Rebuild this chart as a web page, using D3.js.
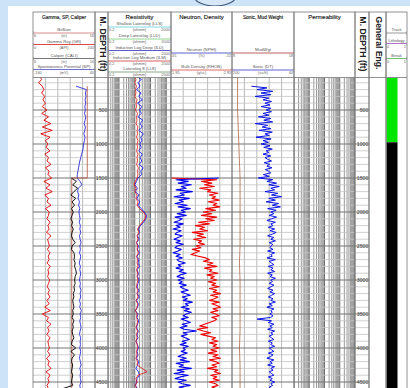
<!DOCTYPE html>
<html>
<head>
<meta charset="utf-8">
<script src="https://cdn.jsdelivr.net/npm/d3@7"></script>
<style>
html, body {margin: 0; padding: 0; background: #cde3f8;}
svg {display: block; font-family: "Liberation Sans", Arial, sans-serif;}
</style>
</head>
<body>
<svg id="chart" width="410" height="388"></svg>
<script>
// ---- log values (depth in ft) ----
const depthLabels = [500, 1000, 1500, 2000, 2500, 3000, 3500, 4000, 4500];

// gamma ray (API), every 50 ft from 0
const gammaRay = [20, 28, 18, 30, 35, 28, 38, 32, 40, 30, 45, 28, 50, 35, 58, 30, 62, 25, 55, 40, 48,
    42, 55, 38, 50, 45, 58, 40, 52, 48, 60, 35, 55, 42, 62, 38, 50, 45, 58, 40, 52,
    50, 45, 55, 48, 52, 44, 58, 47, 50, 53, 46, 55, 49, 52, 45, 56, 48, 51, 47, 54,
    50, 46, 53, 48, 55, 45, 52, 38, 56, 30, 50, 44, 58, 47, 52, 45, 55, 48, 50, 53,
    47, 55, 44, 52, 48, 58, 42, 55, 48, 52, 45, 50];

// spontaneous potential (mV), every 50 ft from 150
const spontaneousPotential = [-21, 12, 9, 11, 8, 10, 7, 9, 6, 10, 8, 5, 9, 7, 4, 8, 6, 3,
    2, 0, -3, -6, -9, -11, -13, -15, -17, -18, -8, -2, -14, -16, -12, -15, -10, -13, -9, -12,
    -10, -8, -11, -7, -9, -6, -10, -8, -5, -9, -7, -10, -6, -8, -11, -7, -9, -6, -8, -10,
    -7, -9, -5, -8, -6, -10, -7, -9, -4, -8, -6, -9, -7, -5, -8, -10, -6, -8, -7, -9,
    -6, -8, -10, -7, -5, -9, -6, -8, -7, -5, -9, -7];

// caliper (in), every 50 ft from 1500
const caliper = [12.2, 13.0, 12.4, 13.2, 12.6, 12.1, 12.9, 12.3, 12.7, 12.2, 12.5,
    12.3, 12.1, 12.4, 12.2, 12.5, 12.3, 12.2, 12.4, 12.8, 12.3, 12.2, 12.6, 12.7, 12.6, 12.8, 12.7, 12.9, 13.0, 12.8, 12.7,
    12.8, 12.6, 12.7, 12.5, 12.6, 12.4, 12.5, 12.6, 12.4, 12.5, 12.3, 12.6, 12.4, 12.5, 12.3, 12.4, 12.6, 12.3, 12.2, 12.9,
    12.1, 12.7, 12.3, 12.2, 12.4, 12.3, 12.2, 12.4, 12.3, 12.2, 12.4, 10.7];

// bit size (in), step curve
const bitSizeDepths = [150, 1500, 1500, 4700];
const bitSize = [14.75, 14.75, 12.25, 12.25];

// induction deep / medium (ohmm), every 50 ft from 0
const ildRes = [12, 26, 16, 22, 13, 25, 18, 30, 15, 28, 20, 26, 16, 32, 22, 30, 18, 35, 24, 28, 21,
    26, 18, 30, 22, 28, 19, 34, 24, 27, 16, 13, 10, 15, 11, 18, 14, 21, 16, 26, 40,
    55, 50, 36, 23, 17, 20, 15, 19, 13, 17, 15, 20, 14, 18, 16, 20, 14, 17, 15, 19,
    16, 14, 18, 15, 19, 13, 17, 15, 11, 16, 14, 18, 15, 13, 17, 14, 16, 12, 15, 17,
    14, 16, 13, 18, 15, 12, 17, 20, 14, 13, 11, 15];
const ilmRes = [9, 12, 10, 13, 11, 12, 10, 14, 12, 13, 11, 15, 13, 14, 12, 16, 14, 15, 13, 16, 14,
    15, 13, 16, 14, 15, 13, 17, 15, 16, 14, 11, 9, 12, 10, 14, 12, 16, 14, 20, 35,
    50, 45, 30, 20, 15, 18, 14, 16, 13, 15, 14, 17, 13, 15, 14, 16, 13, 15, 14, 16,
    14, 13, 15, 14, 16, 12, 15, 14, 11, 14, 13, 15, 14, 12, 15, 13, 14, 12, 14, 15,
    13, 14, 12, 15, 14, 30, 60, 16, 12, 14, 11, 13];

// neutron porosity (%), every 25 ft from 1500
const neutron = [-2, 40, 28, 38, 25, 35, 30, 40, 24, 36, 32, 42, 27, 37, 33, 41, 29, 38, 26, 35, 31,
    39, 30, 41, 34, 37, 42, 33, 40, 36, 43, 35, 39, 41, 34, 38, 42, 36, 40, 33, 39,
    41, 35, 38, 43, 36, 40, 34, 39, 37, 31, 38, 35, 40, 33, 37, 30, 36, 39, 32, 38,
    34, 37, 30, 36, 33, 28, 35, 31, 26, 34, 29, 33, 24, 31, 28, 35, 27, 32, 25, 30,
    33, 28, 35, 30, 26, 34, 29, 36, 32, 20, 33, 29, 35, 31, 27, 34, 30, 36, 28, 33,
    31, 35, 29, 34, 38, 30, 36, 27, 40, 33, 37, 25, 39, 32, 42, 28, 36, 41, 30, 38, 34, 26, 37, 31];

// bulk density (g/cc), every 25 ft from 1500
const density = [1.95, 2.70, 2.45, 2.62, 2.50, 2.66, 2.42, 2.60, 2.55, 2.72, 2.58, 2.68, 2.62, 2.74, 2.56, 2.70, 2.64, 2.75, 2.52, 2.68, 2.48,
    2.62, 2.45, 2.70, 2.52, 2.66, 2.40, 2.58, 2.35, 2.50, 2.42, 2.55, 2.30, 2.48, 2.38, 2.52, 2.32, 2.45, 2.40, 2.50, 2.36,
    2.44, 2.30, 2.42, 2.35, 2.28, 2.40, 2.52, 2.58, 2.48, 2.64, 2.55, 2.70, 2.50, 2.62, 2.58, 2.72, 2.54, 2.66, 2.60, 2.70,
    2.56, 2.68, 2.62, 2.74, 2.58, 2.70, 2.64, 2.76, 2.60, 2.72, 2.66, 2.58, 2.74, 2.62, 2.70, 2.76, 2.64, 2.72, 2.60, 2.68,
    2.74, 2.62, 2.70, 2.66, 2.58, 2.50, 2.42, 2.55, 2.38, 2.48, 2.60, 2.44, 2.56, 2.68, 2.62, 2.72, 2.58, 2.70, 2.64, 2.74,
    2.60, 2.70, 2.56, 2.72, 2.64, 2.76, 2.58, 2.68, 2.74, 2.62, 2.70, 2.55, 2.72, 2.66, 2.76, 2.60, 2.70, 2.64, 2.74, 2.58, 2.68, 2.72, 2.62, 2.70];

// sonic (us/ft), every 25 ft from 150
const sonic = [150, 110, 135, 95, 125, 100, 140, 105, 120, 98, 115, 102, 125, 100, 112,
    98, 120, 105, 132, 100, 118, 95, 140, 108, 122, 100, 130, 96, 115, 104, 138, 99, 120, 106, 125,
    102, 118, 96, 112, 105, 120, 100, 115, 108, 98, 117, 103, 110, 97, 114, 106, 100, 119, 104, 132,
    95, 110, 85, 105, 78, 100, 90, 115, 82, 98, 72, 105, 88, 112, 80, 96, 75, 108, 86, 100,
    92, 104, 85, 98, 110, 88, 100, 94, 106, 90, 102, 86, 96, 108, 92, 100, 88, 104, 95, 99,
    102, 94, 108, 90, 100, 96, 110, 88, 104, 98, 92, 106, 94, 100, 90, 108, 96, 102, 88, 100,
    96, 104, 92, 100, 108, 94, 102, 90, 98, 106, 94, 100, 88, 104, 96, 110, 92, 100, 96, 102,
    94, 100, 135, 98, 106, 92, 102, 96, 108, 90, 100, 94, 104, 98, 92, 106, 96, 100, 90, 104,
    98, 92, 106, 94, 100, 110, 92, 102, 96, 108, 90, 100, 94, 104, 98, 92, 106, 96, 102, 90, 100, 95, 104, 98];

// mud weight (ppg), every 250 ft from 0
const mudWeight = [8.9, 8.9, 8.9, 9.0, 9.1, 9.2, 9.3, 9.3, 9.3, 9.3, 9.3, 9.2, 9.3, 9.3, 9.3, 9.3, 9.2, 9.3, 9.3, 9.3];

// casing / hole zones in the last track
const zoneTops = [0, 975];
const zoneBases = [975, 4800];

// ---- layout ----
const W = 410, H = 388;
const HEAD = {top: 12, bottom: 77.5};
const PLOT = {top: 77.5, bottom: 392};
const zoneColors = ['#00e600', '#000000'];

const tracks = [
    {key: 'gr', x0: 33, x1: 95, title: 'Gamma, SP, Caliper', titleSize: 4.9, grid: 'lin'},
    {key: 'depth1', x0: 95, x1: 108, depth: true},
    {key: 'res', x0: 108, x1: 171, title: 'Resistivity', titleSize: 6.2, grid: 'log', logDomain: [0.2, 2000]},
    {key: 'nd', x0: 171, x1: 232, title: 'Neutron, Density', titleSize: 6, grid: 'lin'},
    {key: 'sonic', x0: 232, x1: 294, title: 'Sonic, Mud Weight', titleSize: 4.8, grid: 'lin'},
    {key: 'perm', x0: 294, x1: 355, title: 'Permeability', titleSize: 5.9, grid: 'log', logDomain: [0.1, 1000]},
    {key: 'depth2', x0: 355, x1: 369, depth: true},
    {key: 'eng', x0: 369, x1: 386, vertical: 'General Eng.'},
    {key: 'zone', x0: 386, x1: 407}
];
const trackByKey = {};
tracks.forEach(t => trackByKey[t.key] = t);

const headerCurves = [
    {track: 'gr', label: 'BitSize', lo: '6', unit: '(in)', hi: '16', color: '#d98a8a', ly: 33},
    {track: 'gr', label: 'Gamma Ray (GR)', lo: '0', unit: '(API)', hi: '200', color: '#e04848', ly: 44.5},
    {track: 'gr', label: 'Caliper (CALI)', lo: '6', unit: '(in)', hi: '16', color: '#777', ly: 58.5},
    {track: 'gr', label: 'Spontaneous Potential (SP)', lo: '-160', unit: '(mV)', hi: '40', color: '#7070d0', ly: 69.5},
    {track: 'res', label: 'Shallow Laterolog (LLS)', lo: '0.2', unit: '(ohmm)', hi: '2000', color: '#7fd8e6', ly: 27},
    {track: 'res', label: 'Deep Laterolog (LLD)', lo: '0.2', unit: '(ohmm)', hi: '2000', color: '#90d890', ly: 39},
    {track: 'res', label: 'Induction Log Deep (ILD)', lo: '0.2', unit: '(ohmm)', hi: '2000', color: '#5a5ac8', ly: 50.5},
    {track: 'res', label: 'Induction Log Medium (ILM)', lo: '0.2', unit: '(ohmm)', hi: '2000', color: '#d86060', ly: 61},
    {track: 'res', label: 'Laterolog 8 (LL8)', lo: '0.2', unit: '(ohmm)', hi: '2000', color: '#8aa88a', ly: 72},
    {track: 'nd', label: 'Neutron (NPHI)', lo: '45', unit: '(%)', hi: '-15', color: '#6060d0', ly: 53},
    {track: 'nd', label: 'Bulk Density (RHOB)', lo: '1.95', unit: '(g/cc)', hi: '2.95', color: '#e06868', ly: 70},
    {track: 'sonic', label: 'MudWgt', lo: '8', unit: '', hi: '18', color: '#c06060', ly: 53},
    {track: 'sonic', label: 'Sonic (DT)', lo: '200', unit: '(us/ft)', hi: '40', color: '#6060d0', ly: 70},
    {track: 'zone', label: 'Track', lo: '', unit: '', hi: '', color: '#999', ly: 33},
    {track: 'zone', label: 'Lithology', lo: '0', unit: '', hi: '1', color: '#b070d0', ly: 43.5},
    {track: 'zone', label: 'Break', lo: '0', unit: '', hi: '1', color: '#70c070', ly: 58.5}
];

const curves = [
    {track: 'gr', values: spontaneousPotential, start: 150, step: 50, domain: [-160, 40], color: '#2a2ad6', width: 0.9},
    {track: 'gr', depths: bitSizeDepths, values: bitSize, domain: [6, 16], color: '#b0503a', width: 0.8},
    {track: 'gr', values: caliper, start: 1500, step: 50, domain: [6, 16], color: '#111', width: 1},
    {track: 'gr', values: gammaRay, start: 0, step: 50, domain: [0, 200], color: '#e00000', width: 0.9},
    {track: 'res', values: ildRes, start: 0, step: 50, log: true, domain: [0.2, 2000], color: '#1a1ae6', width: 0.9},
    {track: 'res', values: ilmRes, start: 0, step: 50, log: true, domain: [0.2, 2000], color: '#e01010', width: 0.8},
    {track: 'nd', values: density, start: 1500, step: 25, domain: [1.95, 2.95], color: '#f00000', width: 1.1},
    {track: 'nd', values: neutron, start: 1500, step: 25, domain: [45, -15], color: '#0000f0', width: 1.1},
    {track: 'sonic', values: mudWeight, start: 0, step: 250, domain: [8, 18], color: '#a0522d', width: 0.7},
    {track: 'sonic', values: sonic, start: 150, step: 25, domain: [200, 40], color: '#0a14e6', width: 1}
];

const y = d3.scaleLinear().domain([0, 4500]).range([76, 382]);

const svg = d3.select('#chart');

// background, logo edge, white sheet
svg.append('rect').attr('width', W).attr('height', H).attr('fill', '#cde3f8');
svg.append('ellipse')
    .attr('cx', 215).attr('cy', -4).attr('rx', 21).attr('ry', 10)
    .attr('fill', '#d6e7f7').attr('stroke', '#3b5a7a').attr('stroke-width', 1.1);
svg.append('rect').attr('x', 8).attr('y', 6).attr('width', W - 8).attr('height', H - 6).attr('fill', '#fff');

const defs = svg.append('defs');
tracks.forEach(t => {
    defs.append('clipPath').attr('id', `clip-${t.key}`)
        .append('rect')
        .attr('x', t.x0).attr('y', PLOT.top)
        .attr('width', t.x1 - t.x0).attr('height', PLOT.bottom - PLOT.top);
});

// grid
const gridG = svg.append('g').attr('id', 'grid');
const minorDepths = d3.range(100, 4800, 100);

tracks.forEach(t => {
    if (t.key === 'eng' || t.key === 'zone') return;
    const g = gridG.append('g').attr('clip-path', `url(#clip-${t.key})`);

    if (t.grid === 'lin') {
        const xs = d3.scaleLinear().domain([0, 5]).range([t.x0, t.x1]);
        g.selectAll('line.v')
            .data(d3.range(1, 5))
            .enter().append('line')
            .attr('x1', d => xs(d)).attr('x2', d => xs(d))
            .attr('y1', PLOT.top).attr('y2', PLOT.bottom)
            .attr('stroke', '#a8a8a8').attr('stroke-width', 0.8);
    } else if (t.grid === 'log') {
        const xs = d3.scaleLog().domain(t.logDomain).range([t.x0, t.x1]);
        g.selectAll('line.v')
            .data(xs.ticks())
            .enter().append('line')
            .attr('x1', d => xs(d)).attr('x2', d => xs(d))
            .attr('y1', PLOT.top).attr('y2', PLOT.bottom)
            .attr('stroke', d => Math.abs(Math.log10(d) - Math.round(Math.log10(d))) < 1e-9 ? '#707070' : '#989898')
            .attr('stroke-width', 1);
    }

    g.selectAll('line.h')
        .data(minorDepths)
        .enter().append('line')
        .attr('x1', t.x0).attr('x2', t.x1)
        .attr('y1', d => y(d)).attr('y2', d => y(d))
        .attr('stroke', d => d % 500 === 0 ? '#777' : '#c4c4c4')
        .attr('stroke-width', d => d % 500 === 0 ? 1.1 : 0.8);
});

// zone bars
const zoneTrack = trackByKey.zone;
svg.append('g').attr('clip-path', 'url(#clip-zone)')
    .selectAll('rect')
    .data(zoneTops)
    .enter().append('rect')
    .attr('x', zoneTrack.x0 + 0.5)
    .attr('width', 11)
    .attr('y', d => Math.max(y(d), PLOT.top))
    .attr('height', (d, i) => y(zoneBases[i]) - Math.max(y(d), PLOT.top))
    .attr('fill', (d, i) => zoneColors[i]);

// curves
const curveG = svg.append('g').attr('id', 'curves');
curves.forEach(c => {
    const t = trackByKey[c.track];
    const xs = (c.log ? d3.scaleLog() : d3.scaleLinear()).domain(c.domain).range([t.x0, t.x1]);
    const pts = c.values.map((v, i) => ({
        d: c.depths ? c.depths[i] : c.start + i * c.step,
        v: v
    }));
    const line = d3.line().x(p => xs(p.v)).y(p => y(p.d));
    curveG.append('path')
        .datum(pts)
        .attr('clip-path', `url(#clip-${t.key})`)
        .attr('fill', 'none')
        .attr('stroke', c.color)
        .attr('stroke-width', c.width)
        .attr('stroke-linejoin', 'round')
        .attr('d', line);
});

// depth labels
tracks.filter(t => t.depth).forEach(t => {
    svg.append('g').selectAll('text')
        .data(depthLabels)
        .enter().append('text')
        .attr('x', t.x1 - 0.5)
        .attr('y', d => y(d) + 1.6)
        .attr('text-anchor', 'end')
        .attr('font-size', 5.3)
        .attr('fill', '#444')
        .text(d => d);
});

// track borders (header + plot)
const borderG = svg.append('g').attr('id', 'borders');
tracks.forEach(t => {
    borderG.append('rect')
        .attr('x', t.x0).attr('y', HEAD.top)
        .attr('width', t.x1 - t.x0).attr('height', HEAD.bottom - HEAD.top)
        .attr('fill', 'none').attr('stroke', '#777').attr('stroke-width', 0.8);
    [t.x0, t.x1].forEach(x => {
        borderG.append('line')
            .attr('x1', x).attr('x2', x)
            .attr('y1', PLOT.top).attr('y2', PLOT.bottom)
            .attr('stroke', '#777').attr('stroke-width', 0.8);
    });
});

// header titles
const headG = svg.append('g').attr('id', 'header');
tracks.filter(t => t.title).forEach(t => {
    headG.append('text')
        .attr('x', (t.x0 + t.x1) / 2).attr('y', 18.5)
        .attr('text-anchor', 'middle')
        .attr('font-size', t.titleSize)
        .attr('fill', '#222')
        .attr('stroke', '#222').attr('stroke-width', 0.15)
        .text(t.title);
});

// rotated headers
tracks.filter(t => t.depth || t.vertical).forEach(t => {
    headG.append('text')
        .attr('transform', `translate(${(t.x0 + t.x1) / 2 + 0.5},${16.5}) rotate(90)`)
        .attr('dominant-baseline', 'middle')
        .attr('font-size', 8.6)
        .attr('font-weight', 'bold')
        .attr('fill', '#222')
        .text(t.vertical || 'M. DEPTH (ft)');
});

// curve legend rows
headerCurves.forEach(h => {
    const t = trackByKey[h.track];
    const g = headG.append('g');
    g.append('line')
        .attr('x1', t.x0 + 0.5).attr('x2', t.x1 - 0.5)
        .attr('y1', h.ly).attr('y2', h.ly)
        .attr('stroke', h.color).attr('stroke-width', 1);
    [t.x0 + 0.6, t.x1 - 0.6].forEach(x => {
        g.append('line')
            .attr('x1', x).attr('x2', x)
            .attr('y1', h.ly - 1.6).attr('y2', h.ly + 1.6)
            .attr('stroke', '#888').attr('stroke-width', 0.6);
    });
    g.append('text')
        .attr('x', (t.x0 + t.x1) / 2).attr('y', h.ly - 1.6)
        .attr('text-anchor', 'middle')
        .attr('font-size', h.track === 'zone' ? 4 : 4.3)
        .attr('fill', '#555')
        .text(h.label);
    const sy = h.ly + 4;
    g.append('text').attr('x', t.x0 + 1).attr('y', sy)
        .attr('font-size', 3.9).attr('fill', '#666').text(h.lo);
    g.append('text').attr('x', (t.x0 + t.x1) / 2).attr('y', sy)
        .attr('text-anchor', 'middle')
        .attr('font-size', 3.9).attr('fill', '#666').text(h.unit);
    g.append('text').attr('x', t.x1 - 1).attr('y', sy)
        .attr('text-anchor', 'end')
        .attr('font-size', 3.9).attr('fill', '#666').text(h.hi);
});
</script>
</body>
</html>
